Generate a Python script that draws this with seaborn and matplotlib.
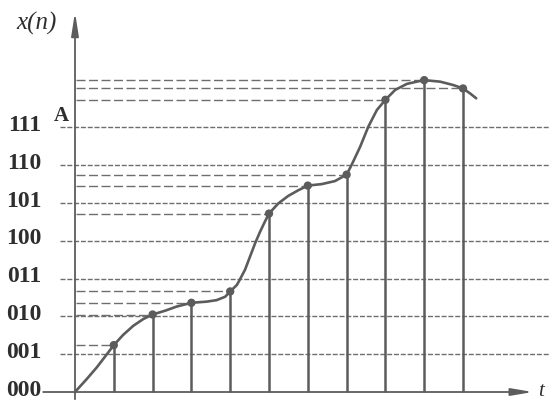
import numpy as np
import pandas as pd
import matplotlib
matplotlib.use("Agg")
import matplotlib.pyplot as plt
import seaborn as sns

# quantisation levels (in level units) and their binary codes
level_vals = [0, 1, 2, 3, 4, 5, 6, 7]
level_codes = ["000", "001", "010", "011", "100", "101", "110", "111"]

sample_t = [1, 2, 3, 4, 5, 6, 7, 8, 9, 10]
sample_v = [1.24, 2.05, 2.36, 2.66, 4.72, 5.46, 5.75, 7.73, 8.25, 8.03]

# the continuous signal
curve_t = [0.0, 0.30, 0.56, 0.77, 1.0, 1.24, 1.50, 1.76, 2.0, 2.32, 2.62, 3.0,
           3.39, 3.65, 3.87, 4.0, 4.17, 4.22, 4.38, 4.51, 4.64, 4.77, 4.90,
           5.0, 5.24, 5.50, 5.76, 6.0, 6.36, 6.70, 7.0, 7.13, 7.35, 7.56,
           7.78, 8.0, 8.25, 8.55, 8.81, 9.0, 9.41, 9.75, 10.0, 10.18, 10.34]
curve_v = [0.0, 0.34, 0.65, 0.93, 1.24, 1.51, 1.75, 1.93, 2.05, 2.15, 2.26, 2.36,
           2.39, 2.43, 2.52, 2.66, 2.83, 2.92, 3.23, 3.58, 3.93, 4.24, 4.52,
           4.72, 4.99, 5.19, 5.34, 5.46, 5.50, 5.58, 5.75, 6.01, 6.49, 7.02,
           7.46, 7.73, 7.99, 8.15, 8.21, 8.25, 8.21, 8.12, 8.03, 7.90, 7.77]

curve_df = pd.DataFrame({"t": curve_t, "v": curve_v})
samples_df = pd.DataFrame({"t": sample_t, "v": sample_v})

sns.set_style("white")
plt.rcParams["lines.scale_dashes"] = False

line_col = "#5c5c5c"
dash_col = "#6e6e6e"
text_col = "#2e2e2e"

fig = plt.figure(figsize=(5.49, 4.01), dpi=100)
ax = fig.add_axes([0, 0, 1, 1])
ax.set_xlim(-1.933, 12.216)
ax.set_ylim(-0.238, 10.37)

# quantisation level lines (short dashes)
ax.hlines(level_vals[1:], -0.39, 12.3, colors=dash_col, lw=1.0,
          linestyles=[(0, (3.6, 1.3))])

# sample value lines (long dashes) from the axis to each sample
ax.hlines(sample_v, 0.02, sample_t, colors=dash_col, lw=1.0,
          linestyles=[(0, (6.5, 2.5))])

# stems
ax.vlines(sample_t, 0, sample_v, colors=line_col, lw=1.8)

# signal and samples
sns.lineplot(data=curve_df, x="t", y="v", ax=ax, color=line_col, lw=1.9,
             sort=False, estimator=None)
sns.scatterplot(data=samples_df, x="t", y="v", ax=ax, color=line_col, s=36,
                edgecolor="none", zorder=5)

# axes with arrows
ax.annotate("", xy=(0, 10.05), xytext=(0, -0.19),
            arrowprops=dict(arrowstyle="-|>,head_length=1.4,head_width=0.22",
                            lw=1.3, color=line_col, shrinkA=0, shrinkB=0))
ax.annotate("", xy=(11.80, 0), xytext=(-0.82, 0),
            arrowprops=dict(arrowstyle="-|>,head_length=1.3,head_width=0.22",
                            lw=1.3, color=line_col, shrinkA=0, shrinkB=0))

# labels
for v, code in zip(level_vals, level_codes):
    ax.text(-0.86, v + 0.05, code, ha="right", va="center", fontsize=17,
            fontweight="bold", family="Liberation Serif", color=text_col)
ax.text(-0.34, 7.3, "A", ha="center", va="center", fontsize=15,
        fontweight="bold", family="Liberation Serif", color=text_col)
ax.text(-1.0, 9.75, "x(n)", ha="center", va="center", fontsize=18,
        style="italic", family="Liberation Serif", color=text_col)
ax.text(12.02, 0.02, "t", ha="center", va="center", fontsize=15,
        style="italic", family="Liberation Serif", color=text_col)

ax.set_xlabel("")
ax.set_ylabel("")
ax.axis("off")

fig.savefig("out.png", dpi=100)
